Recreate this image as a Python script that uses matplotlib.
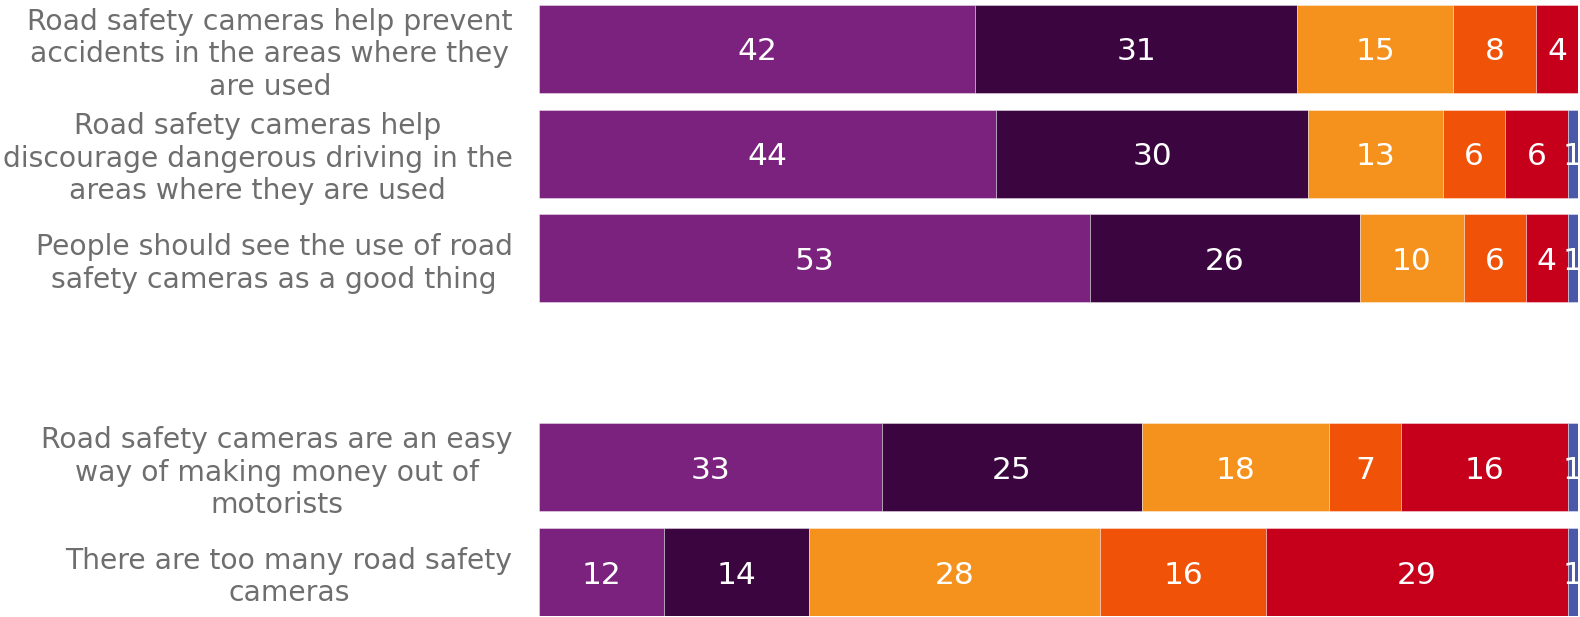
import matplotlib.pyplot as plt
import numpy as np

# statements (top to bottom) and their position on the y axis, slot 3 left empty
statements = [
    "Road safety cameras help prevent\naccidents in the areas where they\nare used",
    "Road safety cameras help\ndiscourage dangerous driving in the\nareas where they are used",
    "People should see the use of road\nsafety cameras as a good thing",
    "Road safety cameras are an easy\nway of making money out of\nmotorists",
    "There are too many road safety\ncameras",
]
positions = [0, 1, 2, 4, 5]

# answer shares per statement, one list per answer category
strongly_agree = [42, 44, 53, 33, 12]
tend_to_agree = [31, 30, 26, 25, 14]
neither = [15, 13, 10, 18, 28]
tend_to_disagree = [8, 6, 6, 7, 16]
strongly_disagree = [4, 6, 4, 16, 29]
dont_know = [0, 1, 1, 1, 1]

series = [strongly_agree, tend_to_agree, neither, tend_to_disagree,
          strongly_disagree, dont_know]
colors = ["#7a227e", "#3b0540", "#f5921e", "#f05307", "#c6001b", "#4958a8"]

fig = plt.figure(figsize=(15.8, 6.17), dpi=100)
ax = fig.add_axes([539 / 1580, 1 - 616 / 617, 1039 / 1580, 611 / 617])

left = np.zeros(len(positions))
for vals, col in zip(series, colors):
    vals = np.array(vals, dtype=float)
    bars = ax.barh(positions, vals, left=left, height=0.84, color=col,
                   edgecolor=(1, 1, 1, 0.45), linewidth=0.6)
    for b, v in zip(bars, vals):
        if v > 0:
            ax.text(b.get_x() + b.get_width() / 2, b.get_y() + b.get_height() / 2,
                    f"{v:.0f}", ha="center", va="center_baseline", color="white",
                    fontsize=22.5)
    left += vals

ax.set_xlim(0, 100)
ax.set_ylim(5.42, -0.42)
ax.set_yticks(positions)
ax.set_yticklabels(statements, fontsize=20.3, color="#6e6e6e")
for lbl in ax.get_yticklabels():
    lbl.set_multialignment("center")
ax.tick_params(axis="y", length=0, pad=19)
ax.set_xticks([])
for s in ax.spines.values():
    s.set_visible(False)

plt.savefig("out.png", dpi=100)
